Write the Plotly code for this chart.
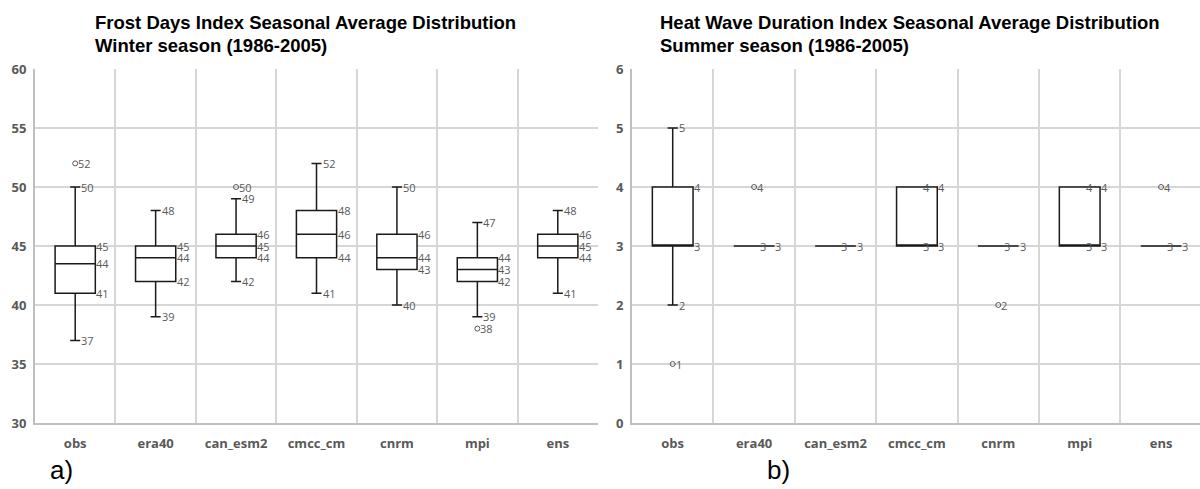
import plotly.graph_objects as go

categories = ["obs", "era40", "can_esm2", "cmcc_cm", "cnrm", "mpi", "ens"]

# Frost days index, winter season (1986-2005)
fd_min = [37, 39, 42, 41, 40, 39, 41]
fd_q1 = [41, 42, 44, 44, 43, 42, 44]
fd_med = [43.5, 44, 45, 46, 44, 43, 45]
fd_q3 = [45, 45, 46, 48, 46, 44, 46]
fd_max = [50, 48, 49, 52, 50, 47, 48]
fd_out = [[52], [], [50], [], [], [38], []]

# Heat wave duration index, summer season (1986-2005)
hw_min = [2, 3, 3, 3, 3, 3, 3]
hw_q1 = [3, 3, 3, 3, 3, 3, 3]
hw_med = [3, 3, 3, 3, 3, 3, 3]
hw_q3 = [4, 3, 3, 4, 3, 4, 3]
hw_max = [5, 3, 3, 4, 3, 4, 3]
hw_out = [[1], [4], [], [], [2], [], [4]]

W, H = 1200, 489
BOX_W = 0.5
LABEL_FONT = dict(family="Open Sans", size=11, color="#595959")
TICK_FONT = dict(family="Open Sans", size=13, color="#595959", weight="bold")
GRID = "#d6d6d6"
AXIS = "#bfbfbf"

fig = go.Figure()
annotations = []


def add_panel(xa, ya, mins, q1, med, q3, maxs, outs):
    idx = list(range(len(categories)))
    fig.add_trace(go.Box(
        x=idx, q1=q1, median=med, q3=q3, lowerfence=mins, upperfence=maxs,
        width=BOX_W, whiskerwidth=0.25, boxpoints=False, fillcolor="white",
        line=dict(color="#1a1a1a", width=1.5), xaxis=xa, yaxis=ya,
        hoverinfo="skip", showlegend=False,
    ))
    ox = [i for i, o in enumerate(outs) for _ in o]
    oy = [v for o in outs for v in o]
    fig.add_trace(go.Scatter(
        x=ox, y=oy, mode="markers", xaxis=xa, yaxis=ya, hoverinfo="skip",
        marker=dict(symbol="circle-open", size=5, color="#595959", line=dict(width=1)),
        showlegend=False,
    ))

    def label(x, y, shift):
        annotations.append(dict(
            x=x, y=y, xref=xa, yref=ya, text=f"{y:.0f}", showarrow=False,
            xanchor="left", yanchor="middle", xshift=shift, font=LABEL_FONT,
            borderpad=0, borderwidth=0,
        ))

    for i in idx:
        # quartile labels at the right edge of the box (coinciding values once)
        for v in sorted({q1[i], med[i], q3[i]}):
            label(i + BOX_W / 2, v, 1)
        # whisker end labels next to the caps
        for v in sorted({mins[i], maxs[i]}):
            label(i, v, 6)
        # outlier labels next to the circles
        for v in outs[i]:
            label(i, v, 3)


add_panel("x", "y", fd_min, fd_q1, fd_med, fd_q3, fd_max, fd_out)
add_panel("x2", "y2", hw_min, hw_q1, hw_med, hw_q3, hw_max, hw_out)

idx = list(range(len(categories)))
bounds = [k - 0.5 for k in range(len(categories) + 1)]

xcommon = dict(
    tickmode="array", tickvals=idx, ticktext=categories, showgrid=False,
    zeroline=False, showline=True, linecolor=AXIS, linewidth=2, ticks="",
    tickfont=TICK_FONT, ticklabelstandoff=7, fixedrange=True, automargin=False,
    minor=dict(tickmode="array", tickvals=bounds, showgrid=True,
               gridcolor=GRID, gridwidth=1.5, ticks=""),
)
ycommon = dict(
    showgrid=True, gridcolor=GRID, gridwidth=1.5, zeroline=False,
    showline=True, linecolor=AXIS, linewidth=2, ticks="",
    tickfont=TICK_FONT, ticklabelstandoff=4, fixedrange=True, automargin=False,
)

ydom = [66 / H, 420 / H]

fig.update_layout(
    width=W, height=H, margin=dict(l=0, r=0, t=0, b=0, pad=0, autoexpand=False),
    paper_bgcolor="white", plot_bgcolor="white",
    xaxis=dict(domain=[35 / W, 598 / W], range=[-0.5, 6.5], anchor="y", **xcommon),
    yaxis=dict(domain=ydom, range=[30, 60], dtick=5, anchor="x", **ycommon),
    xaxis2=dict(domain=[632 / W, 1.0], range=[-0.5, 6.478], anchor="y2", **xcommon),
    yaxis2=dict(domain=ydom, range=[0, 6], dtick=1, anchor="x2", **ycommon),
)

TITLE_FONT = dict(family="Liberation Sans", size=18.5, color="black")
titles = [
    (93, "Frost Days Index Seasonal Average Distribution", "Winter season (1986-2005)"),
    (658, "Heat Wave Duration Index Seasonal Average Distribution", "Summer season (1986-2005)"),
]
for x0, line1, line2 in titles:
    for yy, txt in ((23, line1), (45, line2)):
        annotations.append(dict(
            x=x0 / W, y=1 - yy / H, xref="paper", yref="paper", text=f"<b>{txt}</b>",
            showarrow=False, xanchor="left", yanchor="middle", font=TITLE_FONT,
        ))

for x0, txt in ((48, "a)"), (765, "b)")):
    annotations.append(dict(
        x=x0 / W, y=1 - 470 / H, xref="paper", yref="paper", text=txt,
        showarrow=False, xanchor="left", yanchor="middle",
        font=dict(family="Liberation Sans", size=26, color="black"),
    ))

fig.update_layout(annotations=annotations)
fig.write_html("out.html")
